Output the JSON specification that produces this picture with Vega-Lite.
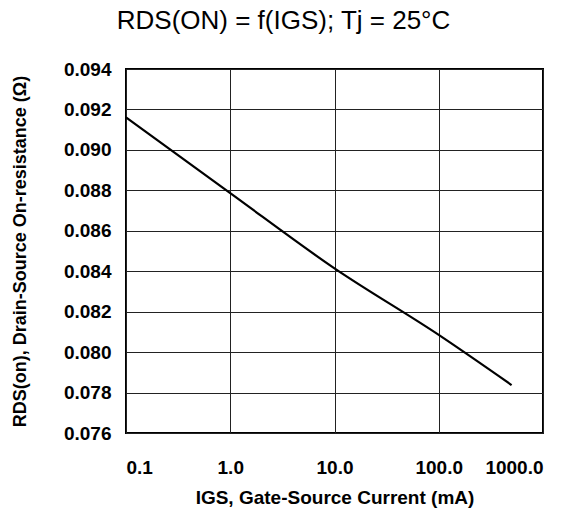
{
  "$schema": "https://vega.github.io/schema/vega-lite/v6.json",
  "width": 417,
  "height": 364,
  "autosize": "none",
  "padding": {"left": 126, "top": 69, "right": 44, "bottom": 82},
  "background": "white",
  "title": {
    "text": "RDS(ON) = f(IGS); Tj = 25°C",
    "font": "Liberation Sans",
    "fontSize": 26,
    "fontWeight": "normal",
    "color": "black",
    "anchor": "middle",
    "offset": 26,
    "dx": -51
  },
  "config": {
    "view": {"stroke": "black", "strokeWidth": 2},
    "axis": {
      "labelFont": "Liberation Sans",
      "labelFontWeight": "bold",
      "labelFontSize": 19,
      "labelColor": "black",
      "titleFont": "Liberation Sans",
      "titleFontWeight": "bold",
      "titleColor": "black",
      "grid": true,
      "gridColor": "#222222",
      "gridWidth": 1,
      "gridOpacity": 1,
      "domain": false,
      "ticks": false
    }
  },
  "data": {
    "values": [
      {"igs": 0.1, "rds": 0.09161},
      {"igs": 1, "rds": 0.08786},
      {"igs": 10, "rds": 0.08414},
      {"igs": 100, "rds": 0.08085},
      {"igs": 500, "rds": 0.07837}
    ]
  },
  "mark": {"type": "line", "color": "black", "strokeWidth": 2.2, "clip": true, "interpolate": "monotone"},
  "encoding": {
    "x": {
      "field": "igs",
      "type": "quantitative",
      "scale": {"type": "log", "domain": [0.1, 1000], "nice": false},
      "axis": {
        "values": [0.1, 1, 10, 100, 1000],
        "format": ".1f",
        "labelPadding": 25,
        "title": "IGS, Gate-Source Current (mA)",
        "titleFontSize": 19,
        "titlePadding": 11
      }
    },
    "y": {
      "field": "rds",
      "type": "quantitative",
      "scale": {"domain": [0.076, 0.094], "nice": false, "zero": false},
      "axis": {
        "values": [0.076, 0.078, 0.08, 0.082, 0.084, 0.086, 0.088, 0.09, 0.092, 0.094],
        "format": ".3f",
        "labelPadding": 15,
        "title": "RDS(on), Drain-Source On-resistance (Ω)",
        "titleFontSize": 18,
        "titlePadding": 34
      }
    }
  }
}
